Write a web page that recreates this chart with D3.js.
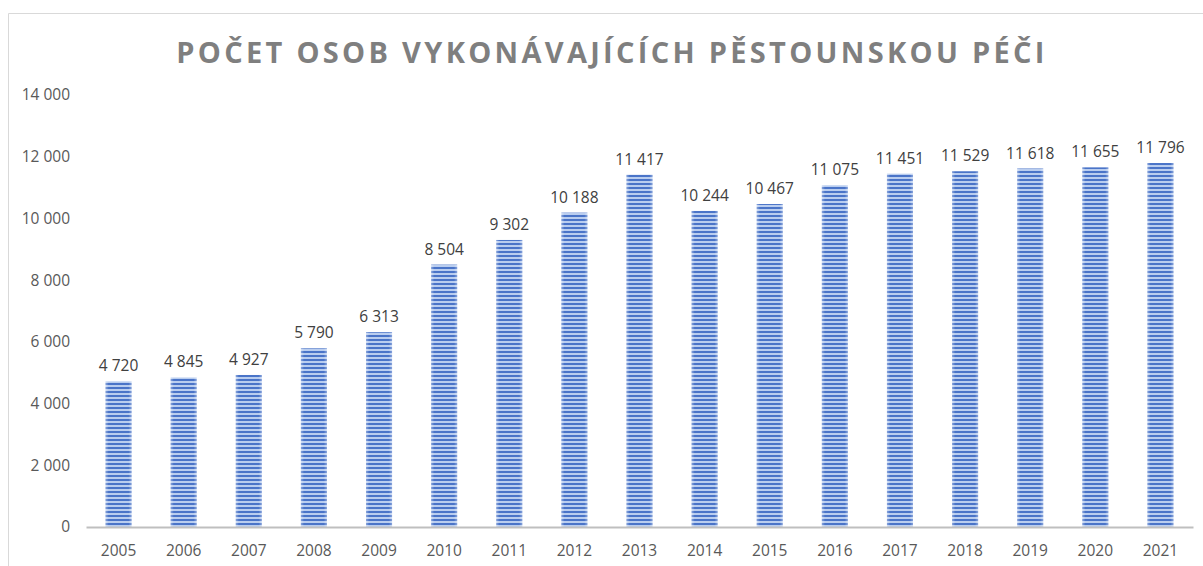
<!DOCTYPE html>
<html lang="cs">
  <head>
    <meta charset="utf-8" />
    <title>Počet osob vykonávajících pěstounskou péči</title>
    <script src="https://cdn.jsdelivr.net/npm/d3@7"></script>
    <style>
      body {
        margin: 0;
        background: #fff;
      }
      text {
        font-family: "Open Sans", "Liberation Sans", sans-serif;
      }
    </style>
  </head>
  <body>
    <script>
      // data
      var years = ["2005", "2006", "2007", "2008", "2009", "2010", "2011", "2012", "2013",
        "2014", "2015", "2016", "2017", "2018", "2019", "2020", "2021"];
      var counts = [4720, 4845, 4927, 5790, 6313, 8504, 9302, 10188, 11417,
        10244, 10467, 11075, 11451, 11529, 11618, 11655, 11796];
      var yTicks = [0, 2000, 4000, 6000, 8000, 10000, 12000, 14000];
      var title = "POČET OSOB VYKONÁVAJÍCÍCH PĚSTOUNSKOU PÉČI";

      var W = 1203, H = 566;
      var margin = { top: 95, right: 10, bottom: 39, left: 86 };
      var width = 1193 - margin.left,
        height = H - margin.top - margin.bottom;

      var fmt = function (v) {
        return d3.format(",")(v).replace(/,/g, " ");
      };

      var svg = d3.select("body").append("svg")
        .attr("width", W)
        .attr("height", H);

      // striped fill like the excel pattern
      var defs = svg.append("defs");
      var pat = defs.append("pattern")
        .attr("id", "stripes")
        .attr("patternUnits", "userSpaceOnUse")
        .attr("width", 8)
        .attr("height", 4);
      pat.append("rect").attr("width", 8).attr("height", 4).attr("fill", "#b9cdef");
      pat.append("rect").attr("y", 0).attr("width", 8).attr("height", 2).attr("fill", "#4a74c8");

      var edge = defs.append("linearGradient").attr("id", "edge");
      edge.append("stop").attr("offset", "0").attr("stop-color", "#fff").attr("stop-opacity", 0.35);
      edge.append("stop").attr("offset", "0.12").attr("stop-color", "#fff").attr("stop-opacity", 0);
      edge.append("stop").attr("offset", "0.88").attr("stop-color", "#fff").attr("stop-opacity", 0);
      edge.append("stop").attr("offset", "1").attr("stop-color", "#fff").attr("stop-opacity", 0.35);

      // outer frame
      svg.append("path")
        .attr("d", "M8.5," + H + "V13.5H" + W)
        .attr("fill", "none")
        .attr("stroke", "#d9d9d9")
        .attr("stroke-width", 1);

      svg.append("text")
        .attr("x", 612)
        .attr("y", 63)
        .attr("text-anchor", "middle")
        .attr("fill", "#7f7f7f")
        .style("font-size", "29px")
        .style("font-weight", "700")
        .style("letter-spacing", "3.3px")
        .text(title);

      var g = svg.append("g")
        .attr("transform", "translate(" + margin.left + "," + margin.top + ")");

      var x = d3.scaleBand().domain(years).range([0, width]).paddingInner(0.6).paddingOuter(0.3);
      var y = d3.scaleLinear().domain([0, 14000]).range([height, 0]);

      var yAxis = d3.axisLeft(y).tickValues(yTicks).tickSize(0).tickPadding(16).tickFormat(fmt);
      var yg = g.append("g").call(yAxis);
      yg.select(".domain").remove();
      yg.selectAll("text").attr("fill", "#595959").style("font-size", "15.5px");

      var bars = g.selectAll(".bar")
        .data(counts)
        .enter()
        .append("g")
        .attr("class", "bar");

      bars.append("rect")
        .attr("x", function (d, i) { return x(years[i]); })
        .attr("y", function (d) { return y(d); })
        .attr("width", x.bandwidth())
        .attr("height", function (d) { return height - y(d); })
        .attr("fill", "url(#stripes)");

      bars.append("rect")
        .attr("x", function (d, i) { return x(years[i]); })
        .attr("y", function (d) { return y(d); })
        .attr("width", x.bandwidth())
        .attr("height", function (d) { return height - y(d); })
        .attr("fill", "url(#edge)");

      bars.append("text")
        .attr("x", function (d, i) { return x(years[i]) + x.bandwidth() / 2; })
        .attr("y", function (d) { return y(d) - 10; })
        .attr("text-anchor", "middle")
        .attr("fill", "#404040")
        .style("font-size", "15.5px")
        .text(function (d) { return fmt(d); });

      var xAxis = d3.axisBottom(x).tickSize(0).tickPadding(18);
      var xg = g.append("g")
        .attr("transform", "translate(0," + height + ")")
        .call(xAxis);
      xg.select(".domain").attr("stroke", "#bfbfbf").attr("stroke-width", 2);
      xg.selectAll("text").attr("fill", "#595959").style("font-size", "15.5px");
    </script>
  </body>
</html>
